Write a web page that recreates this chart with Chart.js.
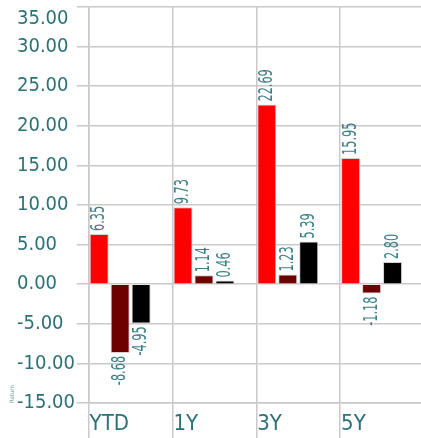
<!DOCTYPE html>
<html>
<head>
<meta charset="utf-8">
<title>Return by period</title>
<script src="https://cdn.jsdelivr.net/npm/chart.js@4/dist/chart.umd.min.js"></script>
<style>
  html, body { margin: 0; padding: 0; background: #ffffff; overflow: hidden; }
  #returnChart { display: block; }
</style>
</head>
<body>
<!-- plot runs slightly past the right edge of the window, as in the original -->
<canvas id="returnChart" width="424" height="438"></canvas>
<script>
// Data
const periods = ['YTD', '1Y', '3Y', '5Y'];
const seriesA = [6.35, 9.73, 22.69, 15.95];
const seriesB = [-8.68, 1.14, 1.23, -1.18];
const seriesC = [-4.95, 0.46, 5.39, 2.80];
// fourth slot is left empty in the original, bars sit on the left of each period
const seriesEmpty = [null, null, null, null];
const yTicks = [-15, -10, -5, 0, 5, 10, 15, 20, 25, 30, 35];

const FONT = "'DejaVu Sans Condensed', 'Liberation Sans Narrow', sans-serif";
const TEAL = '#2b7176';
const LABEL_TEAL = '#3b7f86';
const GRID = '#c9c9c9';

// Rotated value labels on the end of each bar
const valueLabels = {
  id: 'valueLabels',
  afterDatasetsDraw(chart) {
    const ctx = chart.ctx;
    chart.data.datasets.forEach((ds, i) => {
      if (!ds.showValues) return;
      const meta = chart.getDatasetMeta(i);
      meta.data.forEach((bar, j) => {
        const v = ds.data[j];
        if (v === null || v === undefined) return;
        ctx.save();
        ctx.translate(bar.x, bar.y + (v >= 0 ? -3 : 3));
        ctx.rotate(-Math.PI / 2);
        ctx.scale(0.66, 1);
        ctx.font = '19px ' + FONT;
        ctx.fillStyle = LABEL_TEAL;
        ctx.textBaseline = 'middle';
        ctx.textAlign = v >= 0 ? 'left' : 'right';
        ctx.fillText(v.toFixed(2), 0, 0);
        ctx.restore();
      });
    });
  }
};

function barSet(data, color) {
  return {
    data: data,
    backgroundColor: color,
    borderColor: '#d2d2d2',
    borderWidth: 1,
    showValues: true
  };
}

function initReturnChart() {
  const ctx = document.getElementById('returnChart');
  if (!ctx) return;

  new Chart(ctx, {
    type: 'bar',
    data: {
      labels: periods,
      datasets: [
        barSet(seriesA, '#ff0000'),
        barSet(seriesB, '#6e0000'),
        barSet(seriesC, '#000000'),
        { data: seriesEmpty, backgroundColor: 'rgba(0,0,0,0)', showValues: false }
      ]
    },
    options: {
      responsive: false,
      animation: false,
      devicePixelRatio: 1,
      layout: { padding: { left: 17, top: 7, right: 0, bottom: 0 } },
      datasets: {
        bar: { categoryPercentage: 1.0, barPercentage: 0.91 }
      },
      plugins: {
        legend: { display: false },
        tooltip: { enabled: false }
      },
      scales: {
        x: {
          grid: {
            color: GRID,
            lineWidth: 1.5,
            offset: true,
            tickLength: 35
          },
          border: { color: GRID, width: 1.5 },
          ticks: {
            color: TEAL,
            font: { family: FONT, size: 22 },
            align: 'start',
            labelOffset: -41,
            padding: -27,
            maxRotation: 0,
            autoSkip: false
          },
          afterFit(scale) {
            scale.height = 35;
            scale.paddingLeft = 0;
            scale.paddingRight = 0;
          }
        },
        y: {
          min: yTicks[0],
          max: yTicks[yTicks.length - 1],
          afterBuildTicks(scale) {
            scale.ticks = yTicks.map(v => ({ value: v }));
          },
          grid: {
            color: GRID,
            lineWidth: 1.5,
            tickLength: 12
          },
          border: { color: GRID, width: 1.5 },
          ticks: {
            color: TEAL,
            font: { family: FONT, size: 20 },
            crossAlign: 'far',
            autoSkip: false,
            // the top label is pushed down below the frame, as in the original
            callback: v => (v === yTicks[yTicks.length - 1] ? ['', v.toFixed(2)] : v.toFixed(2))
          },
          title: {
            display: true,
            text: 'Return',
            align: 'start',
            color: '#6f9c9e',
            font: { family: FONT, size: 6 },
            padding: { top: -8, bottom: 0 }
          },
          afterFit(scale) {
            scale.width = 71.7;
            scale.paddingTop = 0;
            scale.paddingBottom = 0;
          }
        }
      }
    },
    plugins: [valueLabels]
  });
}

document.addEventListener('DOMContentLoaded', function () {
  initReturnChart();
});
</script>
</body>
</html>
